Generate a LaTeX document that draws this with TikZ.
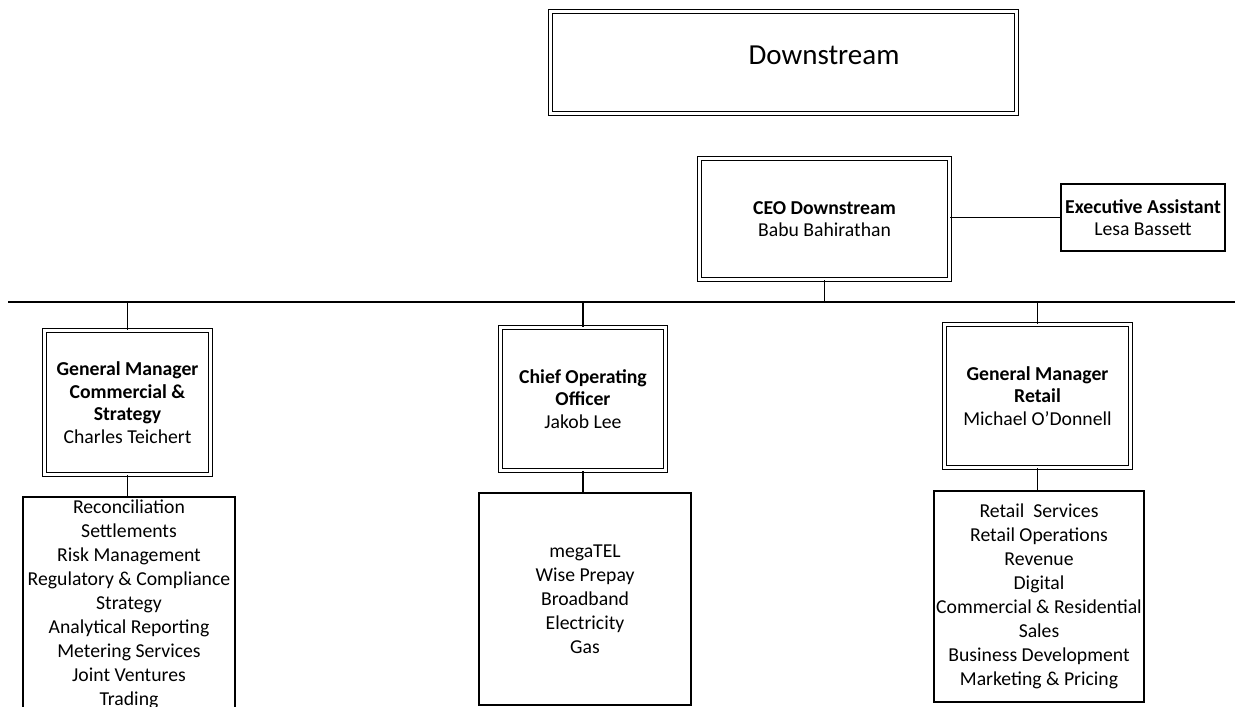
\documentclass[tikz,border=0pt]{standalone}
\usepackage{fontspec}
\setmainfont{Carlito}
\begin{document}
\begin{tikzpicture}[x=1pt,y=-1pt,
  txt/.style={font=\fontsize{19.7}{22.5}\selectfont, align=center, inner sep=0pt},
  dblbox/.style={txt, draw, double, double distance=3pt, line width=1.1pt},
  plainbox/.style={txt, draw, line width=1.1pt},
  listbox/.style={draw, line width=1.1pt, align=center, inner sep=0pt,
    font=\fontsize{19.7}{24}\selectfont},
  link/.style={line width=1.5pt}]
\clip (0,0) rectangle (1235,707);
\fill[white] (0,0) rectangle (1235,707);

% title banner
\node[dblbox, minimum width=466pt, minimum height=102pt] (top) at (783.5,62.5) {};
\node[font=\fontsize{29}{34}\selectfont, inner sep=0pt] (toptext) at (824,55) {Downstream};

% chief executive and assistant
\node[dblbox, minimum width=250pt, minimum height=121pt] (ceo) at (824.5,219)
  {\textbf{CEO Downstream}\\Babu Bahirathan};
\node[plainbox, minimum width=164pt, minimum height=67pt] (ea) at (1143,217.5)
  {\textbf{Executive Assistant}\\Lesa Bassett};
\draw[link] (ceo.east |- ea.west) -- (ea.west);

% reporting bus
\coordinate (busL) at (8,302);
\coordinate (busR) at (1235,302);
\draw[link] (busL) -- (busR);
\draw[link] (ceo.south) -- (ceo.south |- busL);

% direct reports
\node[dblbox, minimum width=166pt, minimum height=144pt] (gmc) at (127.5,402.5)
  {\textbf{General Manager}\\\textbf{Commercial \&}\\\textbf{Strategy}\\Charles Teichert};
\node[dblbox, minimum width=165pt, minimum height=143pt] (coo) at (583,399)
  {\textbf{Chief Operating}\\\textbf{Officer}\\Jakob Lee};
\node[dblbox, minimum width=186pt, minimum height=143pt] (gmr) at (1037.5,396)
  {\textbf{General Manager}\\\textbf{Retail}\\Michael O’Donnell};
\draw[link] (gmc.north) -- (gmc.north |- busL);
\draw[link] (coo.north) -- (coo.north |- busL);
\draw[link] (gmr.north) -- (gmr.north |- busL);

% functions under each report
\node[listbox, minimum width=212pt, minimum height=214pt] (gmclist) at (129,604)
  {Reconciliation\\Settlements\\Risk Management\\Regulatory \& Compliance\\Strategy\\Analytical Reporting\\Metering Services\\Joint Ventures\\Trading};
\node[listbox, minimum width=212pt, minimum height=212pt] (coolist) at (585,599)
  {megaTEL\\Wise Prepay\\Broadband\\Electricity\\Gas};
\node[listbox, minimum width=210pt, minimum height=211pt] (gmrlist) at (1039,596.5)
  {Retail\ \ Services\\Retail Operations\\Revenue\\Digital\\Commercial \& Residential\\Sales\\Business Development\\Marketing \& Pricing};
\draw[link] (gmc.south) -- (gmc.south |- gmclist.north);
\draw[link] (coo.south) -- (coo.south |- coolist.north);
\draw[link] (gmr.south) -- (gmr.south |- gmrlist.north);
\end{tikzpicture}
\end{document}
